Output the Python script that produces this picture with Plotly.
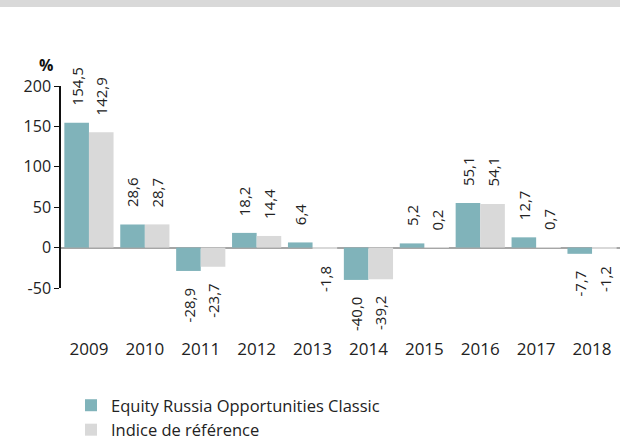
import plotly.graph_objects as go

years = ["2009", "2010", "2011", "2012", "2013", "2014", "2015", "2016", "2017", "2018"]
fund = [154.5, 28.6, -28.9, 18.2, 6.4, -40.0, 5.2, 55.1, 12.7, -7.7]
index = [142.9, 28.7, -23.7, 14.4, -1.8, -39.2, 0.2, 54.1, 0.7, -1.2]
series_names = ["Equity Russia Opportunities Classic", "Indice de référence"]
colors = ["#80b3ba", "#d9d9d9"]
y_ticks = [-50, 0, 50, 100, 150, 200]
y_tick_labels = ["-50", "0", "50", "100", "150", "200"]

FONT = "Open Sans"
W, H = 620, 458  # slightly taller than the 442 viewport so the legend never pushes margins
ML, MR, MT = 61, 0, 86
PLOT_BOTTOM = 288
MB = H - PLOT_BOTTOM
plot_h = H - MT - MB
plot_w = W - ML - MR

fig = go.Figure()
for name, vals, col in zip(series_names, [fund, index], colors):
    fig.add_trace(go.Bar(x=years, y=vals, name=name, marker=dict(color=col, line=dict(width=0)),
                         hoverinfo="skip"))

bar_w = plot_w / len(years) * 0.88 / 2
annotations = []
for si, vals in enumerate([fund, index]):
    shift = (-0.5 if si == 0 else 0.5) * bar_w
    for i, v in enumerate(vals):
        txt = f"{v:.1f}".replace(".", ",")
        pos = v >= 0
        annotations.append(dict(
            x=i, y=v, xref="x", yref="y", text=txt, showarrow=False, textangle=-90,
            xshift=shift, yshift=15 if pos else -15,
            yanchor="bottom" if pos else "top", xanchor="center",
            font=dict(family=FONT, size=15, color="#222222")))

annotations.append(dict(x=(46 - ML) / plot_w, y=1 + (86 - 65) / plot_h, xref="paper", yref="paper",
                        text="<b>%</b>", showarrow=False, xanchor="center", yanchor="middle",
                        font=dict(family=FONT, size=16, color="#111111")))

fig.update_layout(
    width=W, height=H,
    margin=dict(l=ML, r=MR, t=MT, b=MB, pad=0),
    paper_bgcolor="white", plot_bgcolor="white",
    barmode="group", bargap=0.12, bargroupgap=0,
    font=dict(family=FONT, size=15, color="#222222"),
    showlegend=True,
    legend=dict(x=(71 - ML) / plot_w, y=(PLOT_BOTTOM - 388) / plot_h, xanchor="left", yanchor="top",
                orientation="v", font=dict(family=FONT, size=16.5, color="#222222"),
                itemsizing="constant", tracegroupgap=0, bgcolor="rgba(0,0,0,0)"),
    annotations=annotations,
    shapes=[dict(type="rect", xref="paper", yref="paper", x0=-ML / plot_w, x1=1,
                 y0=1 + (MT - 7) / plot_h, y1=1 + MT / plot_h,
                 fillcolor="#d9d9d9", line=dict(width=0), layer="below")],
)
fig.update_xaxes(type="category", range=[-0.5, len(years) - 0.5], showgrid=False, showline=False,
                 ticks="outside", ticklen=46,
                 tickcolor="rgba(0,0,0,0)", tickfont=dict(family=FONT, size=17, color="#222222"),
                 fixedrange=True, automargin=False)
fig.update_yaxes(range=[-50, 200], tickvals=y_ticks, ticktext=y_tick_labels, showgrid=False,
                 showline=True, linecolor="#111111", linewidth=1.5, ticks="outside", ticklen=5,
                 tickcolor="#111111", zeroline=True, zerolinecolor="#a6a6a6", zerolinewidth=2,
                 tickfont=dict(family=FONT, size=16, color="#222222"), fixedrange=True,
                 automargin=False)

fig.write_html("out.html", config={"displayModeBar": False},
               post_script="document.documentElement.style.overflow='hidden';"
                           "document.body.style.overflow='hidden';"
                           "document.body.style.margin='0';document.body.style.padding='0';")
